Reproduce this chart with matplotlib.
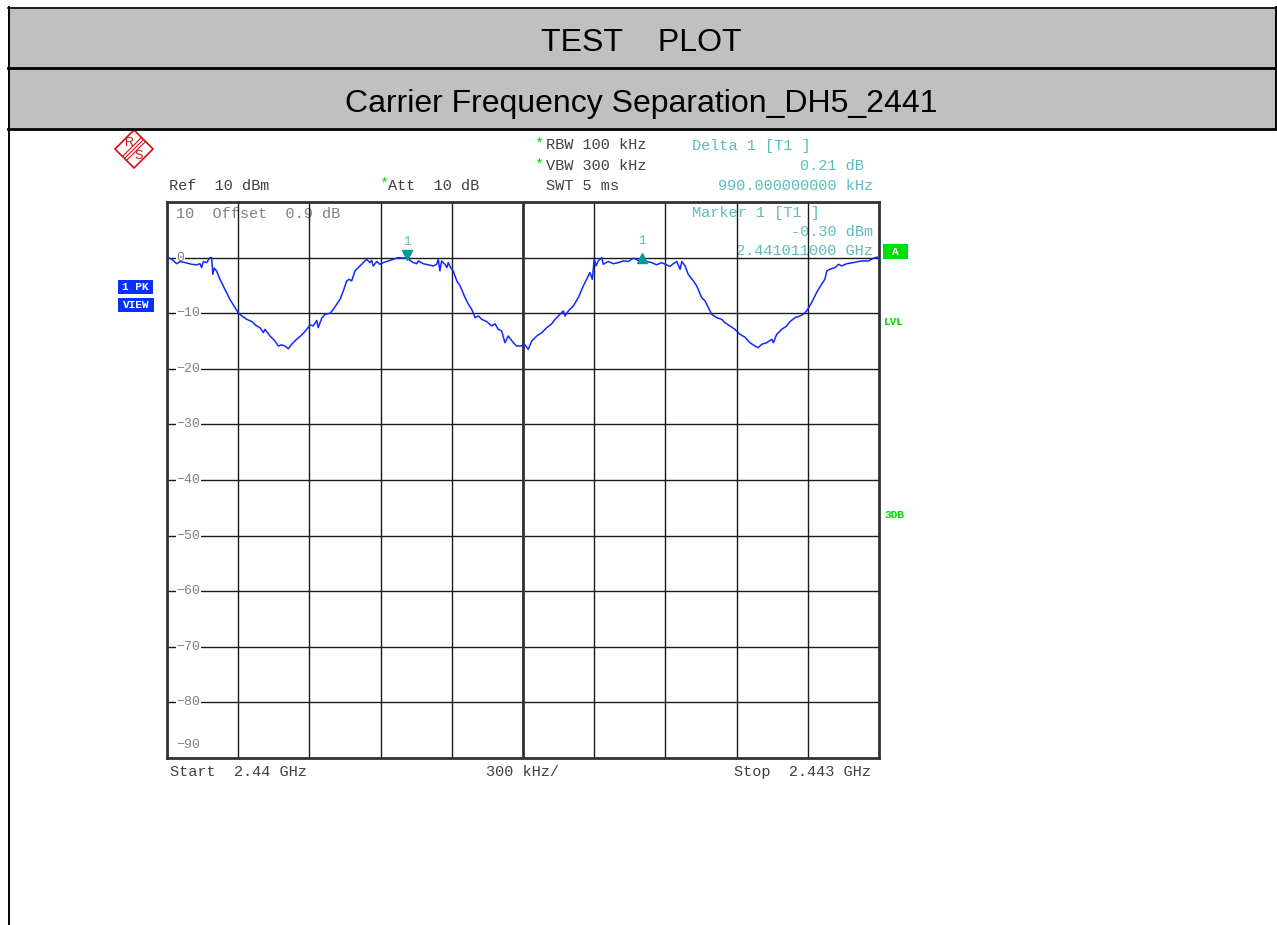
import numpy as np
import matplotlib
matplotlib.use("Agg")
import matplotlib.pyplot as plt
from matplotlib.patches import Rectangle, Polygon
from matplotlib.transforms import offset_copy

# trace: offset from 2440 MHz (MHz) and level (dBm)
freq_offset_mhz = [
    0.000, 0.020, 0.041, 0.055, 0.076, 0.104, 0.125, 0.139, 0.146, 0.153,
    0.167, 0.181, 0.188, 0.193, 0.199, 0.209, 0.223, 0.244, 0.265, 0.287,
    0.300, 0.315, 0.336, 0.357, 0.378, 0.392, 0.406, 0.413, 0.434, 0.455,
    0.469, 0.483, 0.497, 0.511, 0.525, 0.546, 0.568, 0.589, 0.603, 0.616,
    0.631, 0.637, 0.652, 0.666, 0.687, 0.701, 0.715, 0.729, 0.743, 0.757,
    0.768, 0.778, 0.792, 0.806, 0.820, 0.841, 0.855, 0.862, 0.869, 0.884,
    0.897, 0.911, 0.932, 0.953, 0.975, 0.996, 1.010, 1.024, 1.038, 1.052,
    1.059, 1.080, 1.101, 1.122, 1.136, 1.143, 1.150, 1.157, 1.171, 1.179,
    1.185, 1.195, 1.206, 1.221, 1.235, 1.256, 1.270, 1.284, 1.298, 1.312,
    1.326, 1.347, 1.368, 1.382, 1.396, 1.410, 1.424, 1.438, 1.459, 1.473,
    1.487, 1.508, 1.522, 1.537, 1.558, 1.579, 1.600, 1.621, 1.635, 1.656,
    1.670, 1.677, 1.691, 1.712, 1.733, 1.754, 1.768, 1.782, 1.792, 1.800,
    1.808, 1.817, 1.832, 1.838, 1.859, 1.881, 1.902, 1.923, 1.944, 1.965,
    1.986, 2.000, 2.021, 2.042, 2.063, 2.084, 2.105, 2.119, 2.133, 2.148,
    2.162, 2.169, 2.183, 2.196, 2.218, 2.232, 2.253, 2.267, 2.281, 2.295,
    2.316, 2.337, 2.351, 2.372, 2.393, 2.414, 2.435, 2.456, 2.477, 2.491,
    2.506, 2.527, 2.548, 2.555, 2.569, 2.590, 2.611, 2.625, 2.646, 2.667,
    2.681, 2.695, 2.716, 2.737, 2.758, 2.772, 2.780, 2.793, 2.815, 2.829,
    2.843, 2.864, 2.892, 2.913, 2.934, 2.955, 2.969, 2.983, 3.000,
]
level_dbm = [
    0.1, -0.3, -1.1, -0.7, -0.9, -1.2, -1.3, -1.1, -1.8, -0.7,
    -0.9, 0.0, 0.0, -3.0, -1.9, -2.4, -3.9, -5.7, -7.5, -9.0,
    -9.9, -10.5, -11.1, -11.5, -12.3, -12.6, -13.5, -12.9, -14.1, -15.0,
    -15.9, -15.7, -15.9, -16.4, -15.6, -14.7, -13.9, -12.9, -12.1, -12.3,
    -11.3, -12.6, -10.9, -10.2, -10.0, -9.3, -8.4, -7.5, -6.0, -4.2,
    -3.9, -4.2, -2.4, -1.8, -1.2, -0.3, -0.9, -0.5, -1.5, -0.7,
    -1.2, -0.9, -0.6, -0.3, 0.0, -0.1, 0.1, -0.5, -0.9, -1.1,
    -0.6, -1.1, -1.3, -1.5, -1.2, -0.3, -2.4, -0.6, -1.2, -1.8,
    -0.9, -1.8, -2.4, -4.2, -5.1, -7.2, -8.4, -9.3, -10.8, -10.5,
    -11.1, -11.5, -12.3, -11.9, -12.9, -13.2, -15.3, -14.1, -15.3, -15.9,
    -15.9, -15.7, -16.5, -15.0, -14.1, -13.5, -12.6, -11.9, -11.1, -10.2,
    -9.6, -10.5, -9.6, -8.7, -7.2, -5.1, -3.9, -2.7, -3.9, -0.3,
    -1.5, -0.6, 0.0, -1.2, -0.7, -1.1, -0.9, -0.6, -0.7, -0.1,
    -0.5, -0.3, -0.7, -0.9, -1.3, -0.9, -1.3, -1.6, -1.1, -0.7,
    -2.1, -0.7, -1.5, -3.0, -4.2, -5.1, -7.2, -7.8, -9.0, -10.2,
    -10.8, -11.1, -11.7, -12.3, -12.9, -13.8, -14.3, -15.3, -15.9, -16.2,
    -15.6, -15.3, -14.7, -15.3, -13.8, -12.9, -12.3, -11.5, -10.8, -10.5,
    -10.2, -9.6, -8.1, -6.3, -4.8, -3.9, -2.4, -2.1, -1.8, -1.2,
    -1.5, -1.1, -0.9, -0.7, -0.6, -0.6, -0.3, 0.0, 0.1,
]
start_mhz = 2440.0
stop_mhz = 2443.0
ref_level = 10
y_bottom = -90
y_ticks = [0, -10, -20, -30, -40, -50, -60, -70, -80]

marker_freq = [2441.011, 2442.001]
marker_level = [-0.30, -0.09]

freq = [start_mhz + f for f in freq_offset_mhz]

MONO = ["Liberation Mono", "DejaVu Sans Mono"]
SANS = ["Liberation Sans", "DejaVu Sans"]
DARK = "#404040"
CYAN = "#5cbcbc"
GREEN = "#00d800"
BLUE = "#1428ff"

W, H = 1277, 925
fig = plt.figure(figsize=(W / 100, H / 100), dpi=100)

# overlay in pixel coordinates for header and instrument annotations
ov = fig.add_axes([0, 0, 1, 1])
ov.set_xlim(0, W)
ov.set_ylim(H, 0)
ov.axis("off")

ov.add_patch(Rectangle((8, 7), 1268, 61, facecolor="#c0c0c0", edgecolor="none"))
ov.add_patch(Rectangle((8, 69), 1268, 59, facecolor="#c0c0c0", edgecolor="none"))
ov.plot([8, 1276], [7.5, 7.5], color="black", lw=1.2)
ov.plot([8, 1276], [68, 68], color="black", lw=2.0)
ov.plot([8, 1276], [128.5, 128.5], color="black", lw=2.0)
ov.plot([8.5, 8.5], [7, H], color="black", lw=1.4)
ov.plot([1276, 1276], [7, 128.5], color="black", lw=1.4)

ov.text(641, 43, "TEST    PLOT", ha="center", va="center", fontsize=23, family=SANS)
ov.text(641, 104, "Carrier Frequency Separation_DH5_2441", ha="center", va="center",
        fontsize=23, family=SANS)

# R&S logo
cx, cy, r = 134, 149, 19
ov.add_patch(Polygon([(cx, cy - r), (cx + r, cy), (cx, cy + r), (cx - r, cy)],
                     closed=True, fill=False, edgecolor="#d01010", lw=1.2))
for d in (-2, 0, 2):
    ov.plot([cx + 9.5 + d, cx - 9.5 + d], [cy - 9.5 + d, cy + 9.5 + d], color="#d01010", lw=0.8)
ov.text(cx - 5, cy - 6, "R", color="#d01010", fontsize=9, ha="center", va="center", family=SANS)
ov.text(cx + 5, cy + 7, "S", color="#d01010", fontsize=9, ha="center", va="center", family=SANS)

fs = 11
ov.text(169, 186, "Ref  10 dBm", color=DARK, fontsize=fs, va="center", family=MONO)
ov.text(379, 184, "*", color=GREEN, fontsize=fs, va="center", family=MONO)
ov.text(388, 186, "Att  10 dB", color=DARK, fontsize=fs, va="center", family=MONO)
ov.text(534, 144, "*", color=GREEN, fontsize=fs, va="center", family=MONO)
ov.text(546, 145, "RBW 100 kHz", color=DARK, fontsize=fs, va="center", family=MONO)
ov.text(534, 165, "*", color=GREEN, fontsize=fs, va="center", family=MONO)
ov.text(546, 166, "VBW 300 kHz", color=DARK, fontsize=fs, va="center", family=MONO)
ov.text(546, 186, "SWT 5 ms", color=DARK, fontsize=fs, va="center", family=MONO)

ov.text(692, 146, "Delta 1 [T1 ]", color=CYAN, fontsize=fs, va="center", family=MONO)
ov.text(864, 166, "0.21 dB", color=CYAN, fontsize=fs, va="center", ha="right", family=MONO)
ov.text(873, 186, "990.000000000 kHz", color=CYAN, fontsize=fs, va="center", ha="right", family=MONO)
ov.text(692, 213, "Marker 1 [T1 ]", color=CYAN, fontsize=fs, va="center", family=MONO)
ov.text(873, 232, "-0.30 dBm", color=CYAN, fontsize=fs, va="center", ha="right", family=MONO)
ov.text(873, 251, "2.441011000 GHz", color=CYAN, fontsize=fs, va="center", ha="right", family=MONO)

ov.text(176, 214, "10  Offset  0.9 dB", color="#808080", fontsize=fs, va="center", family=MONO)

ov.text(170, 772, "Start  2.44 GHz", color=DARK, fontsize=fs, va="center", family=MONO)
ov.text(486, 772, "300 kHz/", color=DARK, fontsize=fs, va="center", family=MONO)
ov.text(871, 772, "Stop  2.443 GHz", color=DARK, fontsize=fs, va="center", ha="right", family=MONO)

# side boxes
ov.add_patch(Rectangle((118, 280), 35, 14, facecolor="#0a30ff", edgecolor="none"))
ov.text(135.5, 287.5, "1 PK", color="white", fontsize=8, fontweight="bold",
        ha="center", va="center", family=MONO)
ov.add_patch(Rectangle((118, 298), 36, 14, facecolor="#0a30ff", edgecolor="none"))
ov.text(136, 305.5, "VIEW", color="white", fontsize=8, fontweight="bold",
        ha="center", va="center", family=MONO)
ov.add_patch(Rectangle((883, 244), 25, 15, facecolor="#00dd00", edgecolor="none"))
ov.text(895.5, 252, "A", color="white", fontsize=8, fontweight="bold",
        ha="center", va="center", family=MONO)
ov.text(884, 322, "LVL", color=GREEN, fontsize=8, fontweight="bold", va="center", family=MONO)
ov.text(884, 515, "3DB", color=GREEN, fontsize=8, fontweight="bold", va="center", family=MONO)

# spectrum screen
ax = fig.add_axes([167 / W, (H - 758) / H, 712 / W, 556 / H])
ax.patch.set_alpha(0)
ax.set_xlim(start_mhz, stop_mhz)
ax.set_ylim(y_bottom, ref_level)
ax.set_xticks(np.linspace(start_mhz, stop_mhz, 11))
ax.set_yticks(range(y_bottom, ref_level + 1, 10))
ax.grid(True, color="#1a1a1a", lw=1.0)
ax.tick_params(length=0, labelbottom=False, labelleft=False)
for s in ax.spines.values():
    s.set_linewidth(2.0)
    s.set_color("#333333")
ax.axvline((start_mhz + stop_mhz) / 2, color="#333333", lw=2.0)

for v in y_ticks:
    ax.text(0.013, v, "\u2212" + str(-v) if v else "0", transform=ax.get_yaxis_transform(),
            color="#808080", fontsize=9.5, va="center", family=MONO,
            bbox=dict(facecolor="white", edgecolor="none", pad=0.5))
ax.text(0.013, y_bottom + 2.3, "\u221290", transform=ax.get_yaxis_transform(),
        color="#808080", fontsize=9.5, va="center", family=MONO)

ax.plot(freq, level_dbm, color=BLUE, lw=1.1, zorder=3)

up = offset_copy(ax.transData, fig=fig, x=0, y=4, units="dots")
ax.plot(marker_freq[0], marker_level[0], marker="v", color="#009a9a", ms=7,
        transform=up, zorder=4, clip_on=False)
ax.plot(marker_freq[1], marker_level[1], marker="^", color="#009a9a", ms=7,
        transform=ax.transData, zorder=4, clip_on=False)
lab = offset_copy(ax.transData, fig=fig, x=0, y=17, units="dots")
for f, l in zip(marker_freq, marker_level):
    ax.text(f, l, "1", transform=lab, color=CYAN, fontsize=9, ha="center",
            va="center", family=MONO)

fig.savefig("out.png", dpi=100)
